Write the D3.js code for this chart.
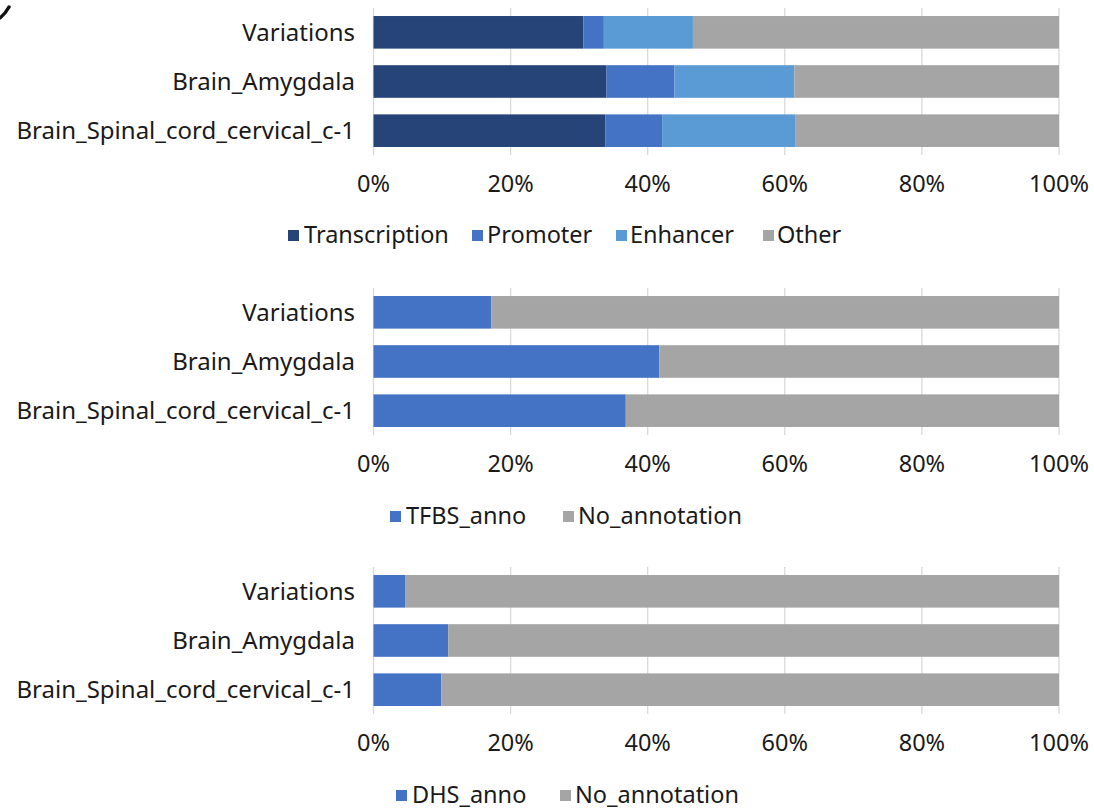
<!DOCTYPE html>
<html>
<head>
<meta charset="utf-8">
<script src="https://cdn.jsdelivr.net/npm/d3@7"></script>
<style>
html,body{margin:0;padding:0;background:#fff;}
svg text{font-family:"Noto Sans","Open Sans",sans-serif;fill:#1a1a1a;}
</style>
</head>
<body>
<svg id="chart" width="1094" height="809"></svg>
<script>
// ---- data ----
const categories = ["Variations", "Brain_Amygdala", "Brain_Spinal_cord_cervical_c-1"];
const tickLabels = ["0%", "20%", "40%", "60%", "80%", "100%"];
const tickValues = [0, 20, 40, 60, 80, 100];

const regSeries = ["Transcription", "Promoter", "Enhancer", "Other"];
const transcription = [30.6, 34.0, 33.8];
const promoter = [3.0, 9.9, 8.3];
const enhancer = [13.0, 17.5, 19.4];
const other = [53.4, 38.6, 38.5];

const tfbsSeries = ["TFBS_anno", "No_annotation"];
const tfbsAnno = [17.2, 41.7, 36.8];
const tfbsNone = [82.8, 58.3, 63.2];

const dhsSeries = ["DHS_anno", "No_annotation"];
const dhsAnno = [4.6, 10.9, 9.9];
const dhsNone = [95.4, 89.1, 90.1];

// ---- drawing ----
const svg = d3.select("#chart");
const x = d3.scaleLinear().domain([0, 100]).range([373.5, 1059]);

const panels = [
  { series: regSeries, values: [transcription, promoter, enhancer, other],
    colors: ["#264478", "#4472C4", "#5B9BD5", "#A5A5A5"],
    top: 8, tickY: 192, legendY: 235,
    legend: [{sq: 288, tx: 304}, {sq: 472, tx: 487}, {sq: 616, tx: 630}, {sq: 763, tx: 777}] },
  { series: tfbsSeries, values: [tfbsAnno, tfbsNone],
    colors: ["#4472C4", "#A5A5A5"],
    top: 288, tickY: 472, legendY: 516,
    legend: [{sq: 390, tx: 406}, {sq: 563, tx: 578}] },
  { series: dhsSeries, values: [dhsAnno, dhsNone],
    colors: ["#4472C4", "#A5A5A5"],
    top: 567, tickY: 751, legendY: 795,
    legend: [{sq: 396, tx: 412}, {sq: 560, tx: 575}] }
];

panels.forEach(p => {
  const g = svg.append("g");
  const y = d3.scaleBand().domain(categories).range([p.top, p.top + 147])
    .paddingInner(0.337).paddingOuter(0.163);

  // gridlines
  g.selectAll("line.grid").data(tickValues).enter().append("line")
    .attr("x1", d => x(d)).attr("x2", d => x(d))
    .attr("y1", p.top).attr("y2", p.top + 147)
    .attr("stroke", "#d9d9d9").attr("stroke-width", 1.3);

  // stacked data
  const rows = categories.map((c, i) => {
    const o = { cat: c };
    p.series.forEach((s, k) => o[s] = p.values[k][i]);
    return o;
  });
  const stacked = d3.stack().keys(p.series)(rows);
  stacked.forEach((layer, k) => {
    g.selectAll(null).data(layer).enter().append("rect")
      .attr("x", d => x(d[0]))
      .attr("width", d => x(d[1]) - x(d[0]))
      .attr("y", d => y(d.data.cat))
      .attr("height", y.bandwidth())
      .attr("fill", p.colors[k]);
  });

  // category labels
  g.selectAll(null).data(categories).enter().append("text")
    .attr("x", 355).attr("y", d => y(d) + y.bandwidth() / 2)
    .attr("dy", "0.35em").attr("text-anchor", "end")
    .attr("font-size", 24).text(d => d);

  // tick labels
  g.selectAll(null).data(tickValues).enter().append("text")
    .attr("x", d => x(d)).attr("y", p.tickY)
    .attr("text-anchor", "middle").attr("font-size", 23.5)
    .text((d, i) => tickLabels[i]);

  // legend
  p.series.forEach((s, k) => {
    g.append("rect").attr("x", p.legend[k].sq).attr("y", p.legendY - 5)
      .attr("width", 11).attr("height", 11).attr("fill", p.colors[k]);
    g.append("text").attr("x", p.legend[k].tx).attr("y", p.legendY)
      .attr("dy", "0.35em").attr("font-size", 23.5).text(s);
  });
});

// fragment of panel letter at top-left corner
svg.append("path").attr("d", "M0,18 Q5,14 9,7")
  .attr("fill", "none").attr("stroke", "#111").attr("stroke-width", 3.5)
  .attr("stroke-linecap", "round");
</script>
</body>
</html>
